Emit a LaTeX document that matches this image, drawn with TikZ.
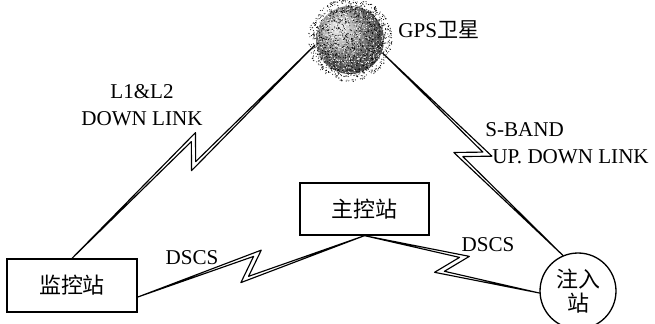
\documentclass[tikz,border=0pt]{standalone}
\usepackage{fontspec}
\setmainfont{Liberation Serif}
\newfontfamily\cjk{Noto Sans CJK SC}
\usetikzlibrary{calc}

% zigzag radio link between two points
\newcommand\bolt[2]{%
\coordinate (bm) at ($(#1)!.5!(#2)$);
\coordinate (bf) at ($(bm)!8pt!(#2)$);
\coordinate (bb) at ($(bm)!-8pt!(#2)$);
\coordinate (nf) at ($(bm)!2.85pt!(#2)$);
\coordinate (nb) at ($(bm)!-2.85pt!(#2)$);
\draw[link] (#1) -- ($(bf)!7.4pt!90:(#2)$) -- ($(nb)!5.1pt!-90:(#2)$) -- (#2)
  -- ($(bb)!7.4pt!-90:(#2)$) -- ($(nf)!5.1pt!90:(#2)$) -- cycle;}

\begin{document}
\begin{tikzpicture}[x=.02cm,y=-.02cm,
  station/.style={draw,line width=.75pt,inner sep=0pt,font=\fontsize{12.5}{15}\cjk},
  link/.style={line width=.65pt,line join=round},
  lbl/.style={inner sep=0pt,font=\fontsize{12}{15.4}\selectfont}]
\useasboundingbox (0,0) rectangle (655,324);

\node[station,minimum width=2.6cm,minimum height=1.06cm] (mon) at (72,285.5) {监控站};
\node[station,minimum width=2.58cm,minimum height=1.04cm] (main) at (364.5,209) {主控站};
\node[station,circle,minimum size=1.52cm,align=center,font=\fontsize{12.5}{13.7}\cjk] (inj) at (578,291) {注入\\站};

% satellite, stippled ball
\node[circle,minimum size=1.4cm] (sat) at (350,40) {};
\shade[ball color=gray!65] (sat) circle (.68cm);
\pgfmathsetseed{11}
\foreach \i in {1,...,1300}{
  \pgfmathsetmacro\ang{360*rnd}
  \pgfmathsetmacro\rad{42*sqrt(rnd)}
  \fill[black] (sat) ++(\ang:\rad) circle (.3pt);
}
\foreach \i in {1,...,700}{
  \pgfmathsetmacro\ang{360*rnd}
  \pgfmathsetmacro\rad{34*sqrt(rnd)}
  \fill[white] (sat) ++(\ang:\rad) circle (.3pt);
}
\node[lbl,anchor=west] (gps) at (398,30) {GPS{\cjk 卫星}};

\bolt{mon.north}{sat.188}
\bolt{inj.113}{sat.-22}
\bolt{mon.-10}{main.south}
\bolt{main.south}{inj.183}

\node[lbl,align=center] (dl) at (142,105) {L1\&L2\\DOWN LINK};
\node[lbl,anchor=west] (sb) at (485,130) {S-BAND};
\node[lbl,anchor=west] (ud) at (492,157) {UP. DOWN LINK};
\node[lbl] (ds1) at (192,258) {DSCS};
\node[lbl] (ds2) at (488,245) {DSCS};
\end{tikzpicture}
\end{document}
